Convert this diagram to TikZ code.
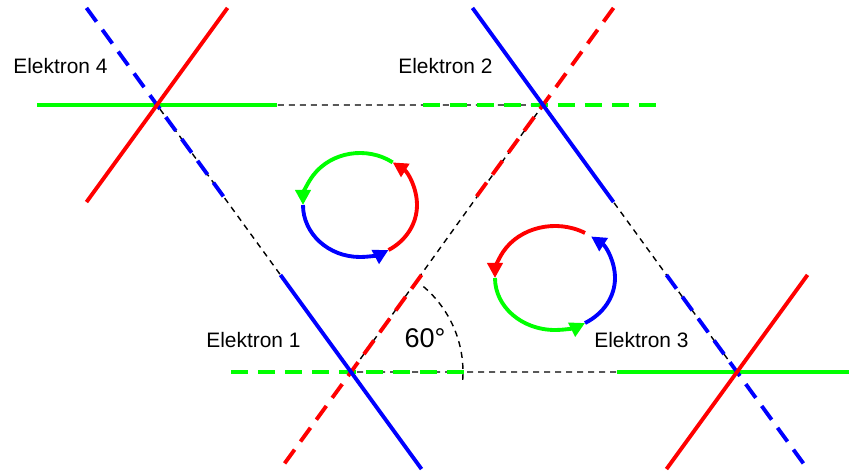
\documentclass[tikz,border=0pt]{standalone}
\usepackage{fontspec}
\setmainfont{Liberation Sans}
\usetikzlibrary{arrows.meta}

\begin{document}
\begin{tikzpicture}[x=0.02cm, y=0.02cm, >={Triangle[length=0.3cm,width=0.3cm]},
  full/.style={line width=2.2pt},
  part/.style={line width=2.2pt, dash pattern=on 0.34cm off 0.2cm},
  aux/.style={black, line width=0.8pt, dash pattern=on 0.12cm off 0.1cm},
  spin/.style={line width=2.2pt, ->},
  lbl/.style={anchor=west, inner sep=0pt, font=\fontsize{11.9}{14}\selectfont}]
  \useasboundingbox (0,0) rectangle (849,473);

  \coordinate (E4) at (157,368);
  \coordinate (E2) at (543,368);
  \coordinate (E1) at (351,101);
  \coordinate (E3) at (737,101);
  \coordinate (L) at (360,268);
  \coordinate (R) at (555,195);

  % lattice
  \draw[aux] (E4) -- (E2) -- (E1) -- cycle;
  \draw[aux] (E2) -- (E3) -- (E1);
  \draw[aux] ([shift={(-4:112)}]E1) arc[start angle=-4, end angle=52, radius=112];

  % electron 4
  \draw[green, full] ([shift={(180:120)}]E4) -- ([shift={(0:120)}]E4);
  \draw[blue, part] ([shift={(126:120)}]E4) -- ([shift={(306:120)}]E4);
  \draw[red, full] ([shift={(234:120)}]E4) -- ([shift={(54:120)}]E4);

  % electron 2
  \draw[green, part] ([shift={(180:120)}]E2) -- ([shift={(0:120)}]E2);
  \draw[red, part] ([shift={(54:120)}]E2) -- ([shift={(234:120)}]E2);
  \draw[blue, full] ([shift={(126:120)}]E2) -- ([shift={(306:120)}]E2);

  % electron 1
  \draw[green, part] ([shift={(180:120)}]E1) -- ([shift={(0:120)}]E1);
  \draw[red, part] ([shift={(54:120)}]E1) -- ([shift={(234:120)}]E1);
  \draw[blue, full] ([shift={(126:120)}]E1) -- ([shift={(306:120)}]E1);

  % electron 3
  \draw[green, full] ([shift={(180:120)}]E3) -- ([shift={(0:120)}]E3);
  \draw[blue, part] ([shift={(126:120)}]E3) -- ([shift={(306:120)}]E3);
  \draw[red, full] ([shift={(234:120)}]E3) -- ([shift={(54:120)}]E3);

  % circulation
  \draw[green, spin] ([shift={(55:57 and 52)}]L) arc[start angle=55, end angle=180, x radius=57, y radius=52];
  \draw[blue, spin] ([shift={(180:57 and 52)}]L) arc[start angle=180, end angle=300, x radius=57, y radius=52];
  \draw[red, spin] ([shift={(300:57 and 52)}]L) arc[start angle=300, end angle=415, x radius=57, y radius=52];

  \draw[red, spin] ([shift={(60:60 and 52)}]R) arc[start angle=60, end angle=180, x radius=60, y radius=52];
  \draw[green, spin] ([shift={(180:60 and 52)}]R) arc[start angle=180, end angle=300, x radius=60, y radius=52];
  \draw[blue, spin] ([shift={(300:60 and 52)}]R) arc[start angle=300, end angle=413, x radius=60, y radius=52];

  \node[lbl] (t4) at (13,407) {Elektron 4};
  \node[lbl] (t2) at (398,407) {Elektron 2};
  \node[lbl] (t1) at (206,133) {Elektron 1};
  \node[lbl] (t3) at (594,133) {Elektron 3};
  \node[inner sep=0pt, font=\fontsize{15.4}{18}\selectfont] (ang) at (425,135) {60°};
\end{tikzpicture}
\end{document}
